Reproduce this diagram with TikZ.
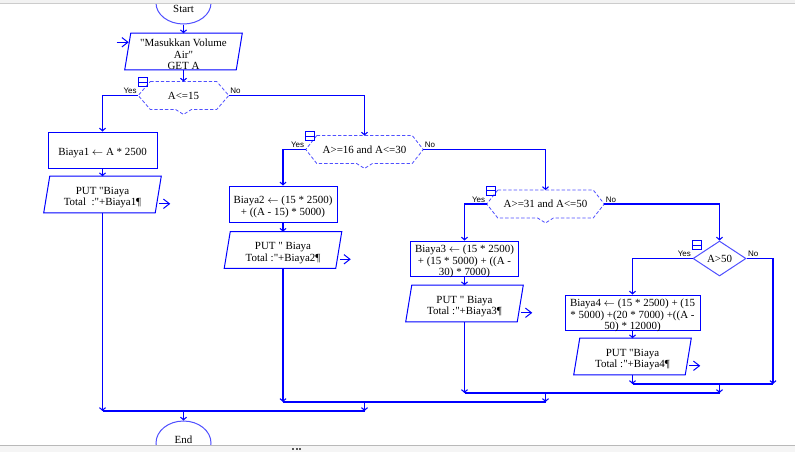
\documentclass[tikz,border=0pt]{standalone}
\usepackage{fontspec}
\setmainfont{Liberation Serif}[Ligatures=TeXOff]
\newfontfamily\ynfont{Liberation Sans}
\usepackage{tikz}
\usetikzlibrary{shapes,arrows.meta,positioning,calc}
\definecolor{rapblue}{RGB}{0,0,255}
\definecolor{selblue}{RGB}{80,80,255}
\newcommand{\assignarrow}{$\leftarrow$}

\begin{document}
\begin{tikzpicture}[x=0.75pt, y=-0.75pt,
    txt/.style={font=\fontsize{8.2}{8.6}\selectfont, align=center, inner sep=0pt},
    lbl/.style={txt, yshift=-2.25pt},
    proc/.style={draw=rapblue, line width=0.75pt, inner sep=0pt, minimum height=27pt},
    io/.style={inner sep=0pt, minimum width=83.25pt, minimum height=27pt},
    sel/.style={txt, minimum height=20.5pt},
    term/.style={ellipse, draw=selblue, line width=0.75pt, minimum width=41.25pt, inner sep=0pt},
    conn/.style={draw=rapblue, line width=0.8pt, -{Straight Barb[length=2pt,width=4.5pt]}},
    wire/.style={draw=rapblue, line width=0.8pt},
    outarr/.style={draw=rapblue, line width=0.75pt, -{Straight Barb[length=4.5pt,width=7pt]}},
    yn/.style={font=\ynfont\fontsize{6}{7}\selectfont, inner sep=1pt}]

    \fill[white] (0,0) rectangle (795,451);
    \useasboundingbox (0,0) rectangle (795,451);

    % Start and input
    \node[term, minimum height=31.5pt] (start) at (183.5,3) {};
    \node[txt] (starttxt) at (183.5,9) {Start};
    \node[io] (inp) at (183.5,51.5) {};
    \node[lbl] (inptxt) at (inp) {"Masukkan Volume\\Air"\\GET A};

    % Selections
    \node[sel, minimum width=67.5pt] (d1) at (183.5,95.5) {A<=15};
    \node[sel, minimum width=87.75pt] (d2) at (364.5,149.5) {A>=16 and A<=30};
    \node[sel, minimum width=87.75pt] (d3) at (545.5,204) {A>=31 and A<=50};
    \node[txt, diamond, draw=selblue, line width=0.75pt, minimum width=39.75pt, minimum height=26.25pt] (d4) at (719.5,258.5) {A>50};

    \foreach \d/\s in {d1/12, d2/11, d3/11}
        \draw[selblue, line width=0.6pt, dash pattern=on 2.5pt off 1.5pt]
            ($(\d.north west)+(\s,0)$) -- ($(\d.north east)+(-\s,0)$) -- (\d.east)
            -- ($(\d.south east)+(-\s,0)$) -- ($(\d.south)+(8,0)$) -- ($(\d.south)+(0,5)$)
            -- ($(\d.south)+(-8,0)$) -- ($(\d.south west)+(\s,0)$) -- (\d.west) -- cycle;

    % collapse boxes, Yes / No
    \foreach \d in {d1,d2,d3,d4} {
        \draw[rapblue, line width=0.7pt] ($(\d.west)+(0,-18)$) rectangle ++(9,9);
        \draw[rapblue, line width=0.7pt] ($(\d.west)+(0,-13.5)$) -- ++(9,0);
        \node[yn, anchor=south east] (\d yes) at (\d.west) {Yes};
        \node[yn, anchor=south west] (\d no) at (\d.east) {No};
    }

    % Assignments
    \node[proc, minimum width=81.75pt] (b1) at (102.5,150) {};
    \node[lbl] (b1txt) at (b1) {Biaya1 \assignarrow{} A * 2500};
    \node[proc, minimum width=81pt] (b2) at (283,204) {};
    \node[lbl] (b2txt) at (b2) {Biaya2 \assignarrow{} (15 * 2500)\\+ ((A - 15) * 5000)};
    \node[proc, minimum width=81pt, minimum height=26.25pt] (b3) at (464.5,258.5) {};
    \node[txt, anchor=north] (b3txt) at ($(b3.north)+(0,4.5)$) {Biaya3 \assignarrow{} (15 * 2500)\\+ (15 * 5000) + ((A -\\30) * 7000)};
    \node[proc, minimum width=101.25pt, minimum height=26.25pt] (b4) at (632.5,312.5) {};
    \node[txt, anchor=north] (b4txt) at ($(b4.north)+(0,4.5)$) {Biaya4 \assignarrow{} (15 * 2500) + (15\\* 5000) +(20 * 7000) +((A -\\50) * 12000)};

    % Outputs
    \node[io] (put1) at (102.5,194.5) {};
    \node[lbl] (put1txt) at (put1) {PUT "Biaya\\Total\ \ :"+Biaya1¶};
    \node[io] (put2) at (283,250) {};
    \node[lbl] (put2txt) at (put2) {PUT " Biaya\\Total :"+Biaya2¶};
    \node[io] (put3) at (464.5,303.5) {};
    \node[lbl] (put3txt) at (put3) {PUT " Biaya\\Total :"+Biaya3¶};
    \node[io] (put4) at (632.5,356.5) {};
    \node[lbl] (put4txt) at (put4) {PUT "Biaya\\Total :"+Biaya4¶};

    \foreach \p in {inp,put1,put2,put3,put4}
        \draw[rapblue, line width=0.75pt] ($(\p.north west)+(3,0)$) -- ($(\p.north east)+(3,0)$)
            -- ($(\p.south east)+(-3,0)$) -- ($(\p.south west)+(-3,0)$) -- cycle;

    \draw[outarr] ($(inp.north west)+(-11,9)$) -- ++(12,0);
    \foreach \p in {put1,put2,put3,put4}
        \draw[outarr] ($(\p.south east)+(1,-9)$) -- ++(11,0);

    % End
    \node[term, minimum height=33pt] (end) at (183.5,443) {};
    \node[txt] (endtxt) at (183.5,440) {End};

    % Flow
    \draw[conn] (start.south) -- (inp.north);
    \draw[conn] (inp.south) -- (d1.north);
    \foreach \d/\b in {d1/b1, d2/b2, d3/b3, d4/b4}
        \draw[conn] (\d.west) -| (\b.north);
    \draw[conn] (d1.east) -| (d2.north);
    \draw[conn] (d2.east) -| (d3.north);
    \draw[conn] (d3.east) -| (d4.north);
    \foreach \n in {1,2,3,4}
        \draw[conn] (b\n.south) -- (put\n.north);

    % Joins
    \coordinate (j4a) at (632.5,384);  \coordinate (j4b) at (773,384);   \coordinate (j4m) at (719.5,384);
    \coordinate (j3a) at (464.5,393);  \coordinate (j3b) at (719.5,393); \coordinate (j3m) at (545.5,393);
    \coordinate (j2a) at (283,402);    \coordinate (j2b) at (545.5,402); \coordinate (j2m) at (364.5,402);
    \coordinate (j1a) at (102.5,411);  \coordinate (j1b) at (364.5,411); \coordinate (j1m) at (183.5,411);

    \draw[conn] (d4.east) -| (j4b);
    \foreach \n in {1,2,3,4} {
        \draw[conn] (put\n.south) -- (j\n a);
        \draw[wire] (j\n a) -- (j\n b);
    }
    \draw[conn] (j4m) -- (j3b);
    \draw[conn] (j3m) -- (j2b);
    \draw[conn] (j2m) -- (j1b);
    \draw[conn] (j1m) -- (end.north);

    % window edges
    \fill[gray!10] (0,-5) rectangle (795,3);
    \draw[gray!40, line width=0.6pt] (0,3) -- (795,3);
    \fill[gray!8] (0,445) rectangle (795,460);
    \draw[gray!55, line width=0.75pt] (0,445) -- (795,445);
    \foreach \x in {292,295.5,299}
        \fill[gray!70!black] (\x,448) rectangle ++(2,2);
\end{tikzpicture}
\end{document}
